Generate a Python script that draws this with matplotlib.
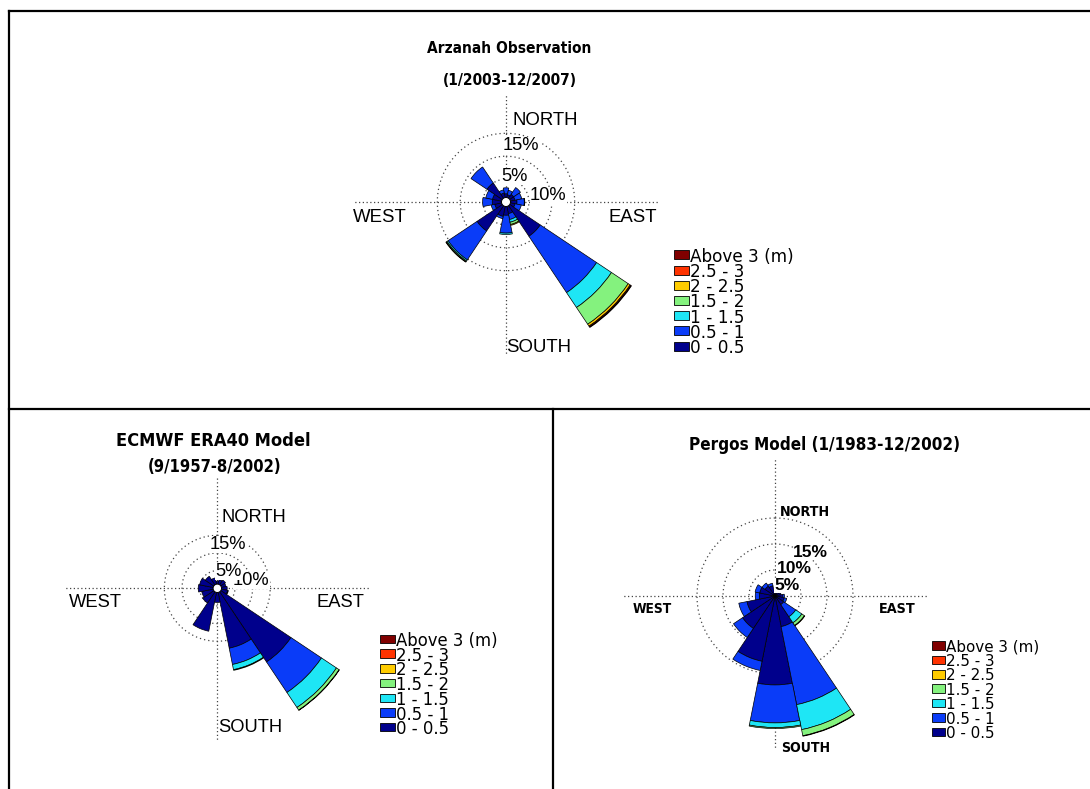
import numpy as np
import matplotlib
matplotlib.use('Agg')
import matplotlib.pyplot as plt
from matplotlib import font_manager as fm
from matplotlib.font_manager import FontProperties
from matplotlib.patches import Rectangle

W, H = 1090, 789

# ---------------- data ----------------
directions = np.arange(16) * 22.5   # N, NNE, NE, ... NNW (degrees, clockwise from north)
speed_classes = ['0 - 0.5', '0.5 - 1', '1 - 1.5', '1.5 - 2', '2 - 2.5', '2.5 - 3', 'Above 3 (m)']
class_colors = ['#00008c', '#0a3cf8', '#1ee6f5', '#84f27e', '#ffcc00', '#ff3300', '#800000']

# Arzanah observation: frequency (%) per speed class and direction
arz_c0 = [1.8, 1.6, 2.0, 2.0, 2.4, 2.0, 9.0, 2.6, 2.9, 3.2, 7.6, 2.5, 3.0, 3.0, 5.0, 2.0]
arz_c1 = [1.3, 1.0, 1.8, 1.5, 1.6, 1.4, 14.8, 1.3, 3.9, 0.5, 7.6, 0.8, 2.1, 1.5, 4.2, 0.7]
arz_c2 = [0, 0, 0, 0, 0.1, 0, 3.9, 0.6, 0.3, 0, 0.3, 0, 0, 0, 0, 0]
arz_c3 = [0, 0, 0, 0, 0, 0, 4.4, 0.5, 0, 0, 0.2, 0, 0, 0, 0, 0]
arz_c4 = [0, 0, 0, 0, 0, 0, 0.5, 0.2, 0, 0, 0.1, 0, 0, 0, 0, 0]
arz_c5 = [0, 0, 0, 0, 0, 0, 0.2, 0, 0, 0, 0, 0, 0, 0, 0, 0]
arz_c6 = [0, 0, 0, 0, 0, 0, 0.15, 0, 0, 0, 0, 0, 0, 0, 0, 0]

# ECMWF ERA40 model
era_c0 = [2.0, 2.5, 2.8, 2.5, 2.8, 3.0, 25.1, 17.3, 4.0, 12.4, 5.0, 4.5, 5.4, 5.1, 4.1, 3.0]
era_c1 = [0, 0, 0, 0, 0, 0.2, 10.4, 4.7, 0, 0, 0, 0, 0, 0, 0, 0]
era_c2 = [0, 0, 0, 0, 0, 0, 5.1, 1.5, 0, 0, 0, 0, 0, 0, 0, 0]
era_c3 = [0, 0, 0, 0, 0, 0, 0.9, 0.2, 0, 0, 0, 0, 0, 0, 0, 0]
era_c4 = [0, 0, 0, 0, 0, 0, 0.1, 0, 0, 0, 0, 0, 0, 0, 0, 0]
era_c5 = [0] * 16
era_c6 = [0] * 16

# Pergos model
per_c0 = [1.2, 1.0, 1.0, 1.2, 1.5, 1.8, 2.0, 6.0, 17.1, 12.8, 7.5, 5.5, 3.0, 3.0, 2.3, 2.0]
per_c1 = [0, 0, 0, 0, 0.3, 0.5, 2.8, 15.3, 7.3, 1.8, 2.1, 1.6, 0.8, 0.9, 0.7, 0.5]
per_c2 = [0, 0, 0, 0, 0, 0, 1.4, 4.9, 0.9, 0, 0, 0, 0, 0, 0, 0]
per_c3 = [0, 0, 0, 0, 0, 0, 0.6, 1.2, 0.2, 0, 0, 0, 0, 0, 0, 0]
per_c4 = [0, 0, 0, 0, 0, 0, 0.1, 0.1, 0, 0, 0, 0, 0, 0, 0, 0]
per_c5 = [0] * 16
per_c6 = [0] * 16

ring_levels = [5, 10, 15]
ring_labels = ['15%', '10%', '5%']   # drawn in this order (later ones cover earlier)
compass = ['NORTH', 'WEST', 'EAST', 'SOUTH']


# ---------------- fonts ----------------
def _wnum(w):
    try:
        return int(w)
    except (TypeError, ValueError):
        return {'bold': 700, 'semibold': 600, 'demibold': 600, 'demi': 600,
                'heavy': 800, 'extra bold': 800, 'black': 900}.get(str(w).lower(), 400)


ORDER_NM = ['Liberation Sans Narrow', 'Arial Narrow', 'Noto Sans', 'Open Sans',
            'Roboto', 'Lato', 'DejaVu Sans', 'Inter']


def find_bold(stretches):
    best, best_key = None, None
    for f in fm.fontManager.ttflist:
        st = str(f.stretch).lower()
        narrow_name = 'narrow' in f.name.lower()
        if not (st in stretches or (narrow_name and 'condensed' in stretches)):
            continue
        if not (600 <= _wnum(f.weight) <= 800):
            continue
        if str(f.style).lower() != 'normal':
            continue
        if not f.fname.lower().endswith(('.ttf', '.otf')):
            continue
        k1 = 0 if narrow_name else (stretches.index(st) + 1)
        k2 = ORDER_NM.index(f.name) if f.name in ORDER_NM else 99
        key = (k2, k1, abs(_wnum(f.weight) - 700))
        if best_key is None or key < best_key:
            best, best_key = f, key
    return best


_cb = find_bold(['condensed', 'semi-condensed', 'extra-condensed'])
if _cb is not None:
    BOLD_NARROW = FontProperties(fname=_cb.fname)
else:
    BOLD_NARROW = FontProperties(family='Liberation Sans', weight='bold')
SANS = 'Liberation Sans'

fig = plt.figure(figsize=(W / 100, H / 100), dpi=100)
fig.patch.set_facecolor('white')
renderer = fig.canvas.get_renderer()


def rose(cx, cy, scale, classes, circle_r=0.0, north_len=152):
    R = 172
    ax = fig.add_axes([(cx - R) / W, (H - cy - R) / H, 2 * R / W, 2 * R / H],
                      projection='polar')
    ax.set_theta_zero_location('N')
    ax.set_theta_direction(-1)
    ax.set_ylim(0, R / scale)
    ax.set_axis_off()
    for a, L in ((0, north_len), (90, 152), (180, 152), (270, 152)):
        ax.plot([np.deg2rad(a)] * 2, [0, L / scale], color='#444444', lw=0.9,
                ls=(0, (1, 2.0)), zorder=1)
    t = np.linspace(0, 2 * np.pi, 400)
    for r in ring_levels:
        ax.plot(t, np.full_like(t, r), color='#444444', lw=0.9,
                ls=(0, (1, 2.4)), zorder=1)
    theta = np.deg2rad(directions)
    bottom = np.zeros(16)
    for vals, col in zip(classes, class_colors):
        v = np.asarray(vals, float)
        m = v > 0
        if m.any():
            ax.bar(theta[m], v[m], width=np.deg2rad(22.5), bottom=bottom[m],
                   color=col, edgecolor='black', linewidth=0.5, zorder=3)
        bottom += v
    if circle_r > 0:
        rc = circle_r / scale
        ax.fill(t, np.full_like(t, rc), facecolor='white', edgecolor='black',
                lw=0.7, zorder=4)
    return ax


rose(506, 202, 4.58, [arz_c0, arz_c1, arz_c2, arz_c3, arz_c4, arz_c5, arz_c6], 4.5,
     north_len=108)
rose(217.3, 588.3, 3.53, [era_c0, era_c1, era_c2, era_c3, era_c4, era_c5, era_c6], 4.2,
     north_len=110)
rose(775, 596, 5.2, [per_c0, per_c1, per_c2, per_c3, per_c4, per_c5, per_c6], 0,
     north_len=138)

# ---------------- overlay in pixel coordinates ----------------
ov = fig.add_axes([0, 0, 1, 1])
ov.set_xlim(0, W)
ov.set_ylim(H, 0)
ov.set_axis_off()


def fit(txt, target_w):
    bb = txt.get_window_extent(renderer)
    if bb.width > 0:
        txt.set_fontsize(txt.get_fontsize() * target_w / bb.width)
    return txt


# frame lines
for xs, ys in (([9, W], [11, 11]), ([9, 9], [11, H]), ([9, W], [409, 409]),
               ([553, 553], [409, H])):
    ov.plot(xs, ys, color='black', lw=1.6, solid_capstyle='projecting')

# titles: (text, center x, center y, target width)
titles = [('Arzanah Observation', 509.5, 48, 164),
          ('(1/2003-12/2007)', 509.5, 80, 134),
          ('ECMWF ERA40 Model', 213, 441, 194),
          ('(9/1957-8/2002)', 215, 467, 134),
          ('Pergos Model (1/1983-12/2002)', 825, 445, 270)]
for s, x, y, w in titles:
    t = ov.text(x, y, s, ha='center', va='center', fontproperties=BOLD_NARROW.copy())
    t.set_fontsize(12)
    fit(t, w)

# compass labels (left x, baseline y)
top_pos = {'NORTH': (513, 125), 'WEST': (352.5, 221.7), 'EAST': (609, 221.7),
           'SOUTH': (506.5, 351.7)}
era_pos = {'NORTH': (221.5, 522), 'WEST': (69.3, 607), 'EAST': (316.7, 607),
           'SOUTH': (218.3, 732)}
per_pos = {'NORTH': (780, 516), 'WEST': (632.7, 613.3), 'EAST': (879.3, 613.3),
           'SOUTH': (781, 751.7)}
per_w = {'NORTH': 50, 'WEST': 39, 'EAST': 36.7, 'SOUTH': 49}
for name in compass:
    x, y = top_pos[name]
    ov.text(x, y, name, ha='left', va='baseline', fontsize=13.4, family=SANS)
    x, y = era_pos[name]
    ov.text(x, y, name, ha='left', va='baseline', fontsize=13.2, family=SANS)
    x, y = per_pos[name]
    t = ov.text(x, y, name, ha='left', va='baseline', fontproperties=BOLD_NARROW.copy())
    t.set_fontsize(11)
    fit(t, per_w[name])

bb = dict(facecolor='white', edgecolor='none', pad=0.3)
top_pct = {'15%': (503, 150), '10%': (530, 200), '5%': (501.7, 181)}
era_pct = {'15%': (210, 549), '10%': (233, 585), '5%': (215, 576)}
per_pct = {'15%': (793.3, 556.7), '10%': (776.7, 573.3), '5%': (774, 590)}
for lab in ring_labels:
    x, y = top_pct[lab]
    ov.text(x, y, lab, ha='left', va='baseline', fontsize=13.2, family=SANS, bbox=bb)
    x, y = era_pct[lab]
    ov.text(x, y, lab, ha='left', va='baseline', fontsize=13.2, family=SANS, bbox=bb)
    x, y = per_pct[lab]
    ov.text(x, y, lab, ha='left', va='baseline', fontsize=12.6, fontweight='bold',
            family=SANS, bbox=bb)


def legend(x0, y0, pitch, sw, sh, fs):
    for i, (lab, col) in enumerate(zip(speed_classes[::-1], class_colors[::-1])):
        yc = y0 + i * pitch
        ov.add_patch(Rectangle((x0, yc - sh / 2), sw, sh, facecolor=col,
                               edgecolor='black', lw=0.6))
        ov.text(x0 + sw + 1.0, yc, lab, ha='left', va='center_baseline',
                fontsize=fs, family='DejaVu Sans')


legend(674, 254.8, 15.2, 15, 9, 12.2)
legend(380, 639, 14.7, 15, 8.5, 11.9)
legend(931.7, 645.5, 14.4, 13.3, 8.5, 10.9)

fig.savefig('out.png', dpi=100, facecolor='white')
